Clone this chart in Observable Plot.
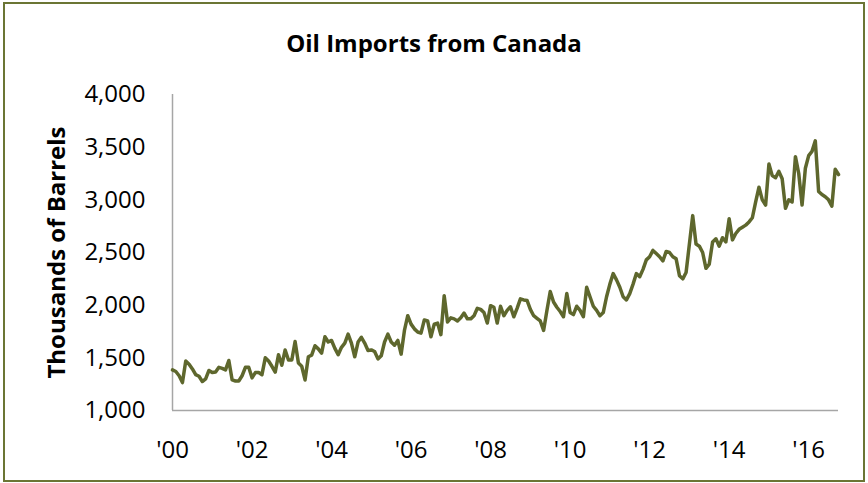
<!DOCTYPE html>
<html>
<head>
<meta charset="utf-8">
<script src="https://cdn.jsdelivr.net/npm/d3@7"></script>
<script src="https://cdn.jsdelivr.net/npm/@observablehq/plot@0.6"></script>
<style>
  html, body { margin: 0; padding: 0; background: #fff; }
  #wrap { position: relative; width: 868px; height: 483px; overflow: hidden; font-family: "Open Sans", sans-serif; }
  #frame { position: absolute; left: 3px; top: 2px; width: 858px; height: 476px; border: 2px solid #6b7534; pointer-events: none; }
  #title { position: absolute; left: 0; width: 868px; top: 26px; text-align: center; font-weight: 700; font-size: 24px; line-height: 34px; color: #000; }
  #chart { position: absolute; left: 0; top: 0; }
</style>
</head>
<body>
<div id="wrap">
  <div id="chart"></div>
  <div id="title">Oil Imports from Canada</div>
  <div id="frame"></div>
</div>
<script>
// Monthly oil imports from Canada, thousands of barrels (per day), Jan 2000 – Oct 2016
const y2000 = [1385, 1370, 1330, 1265, 1470, 1440, 1395, 1340, 1325, 1275, 1300, 1380];
const y2001 = [1360, 1365, 1410, 1400, 1385, 1475, 1290, 1280, 1280, 1330, 1410, 1410];
const y2002 = [1310, 1360, 1360, 1340, 1500, 1470, 1420, 1365, 1530, 1430, 1575, 1480];
const y2003 = [1480, 1655, 1450, 1420, 1290, 1510, 1525, 1615, 1585, 1545, 1700, 1650];
const y2004 = [1665, 1590, 1530, 1600, 1640, 1725, 1640, 1510, 1650, 1695, 1640, 1570];
const y2005 = [1575, 1560, 1490, 1520, 1650, 1725, 1650, 1620, 1665, 1535, 1760, 1900];
const y2006 = [1820, 1775, 1745, 1735, 1860, 1850, 1700, 1820, 1830, 1720, 2090, 1840];
const y2007 = [1880, 1870, 1850, 1880, 1925, 1870, 1870, 1900, 1970, 1960, 1930, 1830];
const y2008 = [1995, 1980, 1830, 1990, 1900, 1950, 1985, 1890, 1970, 2060, 2050, 2045];
const y2009 = [1960, 1900, 1875, 1850, 1760, 1950, 2130, 2030, 1980, 1940, 1890, 2110];
const y2010 = [1930, 1910, 1990, 1950, 1890, 2170, 2080, 1990, 1950, 1900, 1930, 2080];
const y2011 = [2200, 2300, 2240, 2170, 2080, 2050, 2110, 2200, 2300, 2270, 2340, 2430];
const y2012 = [2460, 2520, 2490, 2460, 2420, 2510, 2500, 2460, 2440, 2280, 2250, 2310];
const y2013 = [2580, 2850, 2580, 2560, 2500, 2350, 2390, 2600, 2630, 2560, 2640, 2600];
const y2014 = [2820, 2620, 2680, 2720, 2740, 2760, 2790, 2830, 2980, 3120, 3000, 2950];
const y2015 = [3340, 3230, 3210, 3270, 3200, 2920, 3000, 2980, 3410, 3250, 2950, 3300];
const y2016 = [3420, 3460, 3560, 3080, 3050, 3030, 3000, 2940, 3290, 3240];

const years = [2000, 2001, 2002, 2003, 2004, 2005, 2006, 2007, 2008, 2009, 2010, 2011, 2012, 2013, 2014, 2015, 2016];
const yearValues = [y2000, y2001, y2002, y2003, y2004, y2005, y2006, y2007, y2008, y2009, y2010, y2011, y2012, y2013, y2014, y2015, y2016];

const xTickLabels = ["'00", "'02", "'04", "'06", "'08", "'10", "'12", "'14", "'16"];
const yTicks = [1000, 1500, 2000, 2500, 3000, 3500, 4000];
const title = "Oil Imports from Canada";
const yLabel = "Thousands of Barrels";

// build table: month index from Jan 2000
const data = [];
yearValues.forEach((vals, yi) => {
  vals.forEach((v, m) => data.push({ idx: (years[yi] - 2000) * 12 + m, value: v }));
});
const lastIdx = data[data.length - 1].idx;
const xTicks = xTickLabels.map((_, k) => k * 24);

const lineColor = "#5e672d";
const axisColor = "#a6a6a6";

const chart = Plot.plot({
  width: 868,
  height: 483,
  marginLeft: 172,
  marginRight: 30,
  marginTop: 94,
  marginBottom: 73,
  style: { fontFamily: "'Open Sans', sans-serif", fontSize: "24px", color: "#000", background: "transparent" },
  x: { domain: [0, lastIdx], ticks: xTicks, tickFormat: (d) => xTickLabels[d / 24], tickSize: 0, tickPadding: 30, label: null },
  y: { domain: [1000, 4000], ticks: yTicks, tickFormat: d3.format(","), tickSize: 0, tickPadding: 27, label: null },
  marks: [
    Plot.ruleX([0], { stroke: axisColor, strokeWidth: 1.5 }),
    Plot.ruleY([1000], { stroke: axisColor, strokeWidth: 1.5 }),
    Plot.line(data, { x: "idx", y: "value", stroke: lineColor, strokeWidth: 3.5, strokeLinejoin: "round", strokeLinecap: "round" }),
    Plot.text([yLabel], { frameAnchor: "left", dx: -115, rotate: -90, textAnchor: "middle", fontWeight: "bold", fontSize: 24, fill: "#000" })
  ]
});
document.getElementById("chart").appendChild(chart);
</script>
</body>
</html>
